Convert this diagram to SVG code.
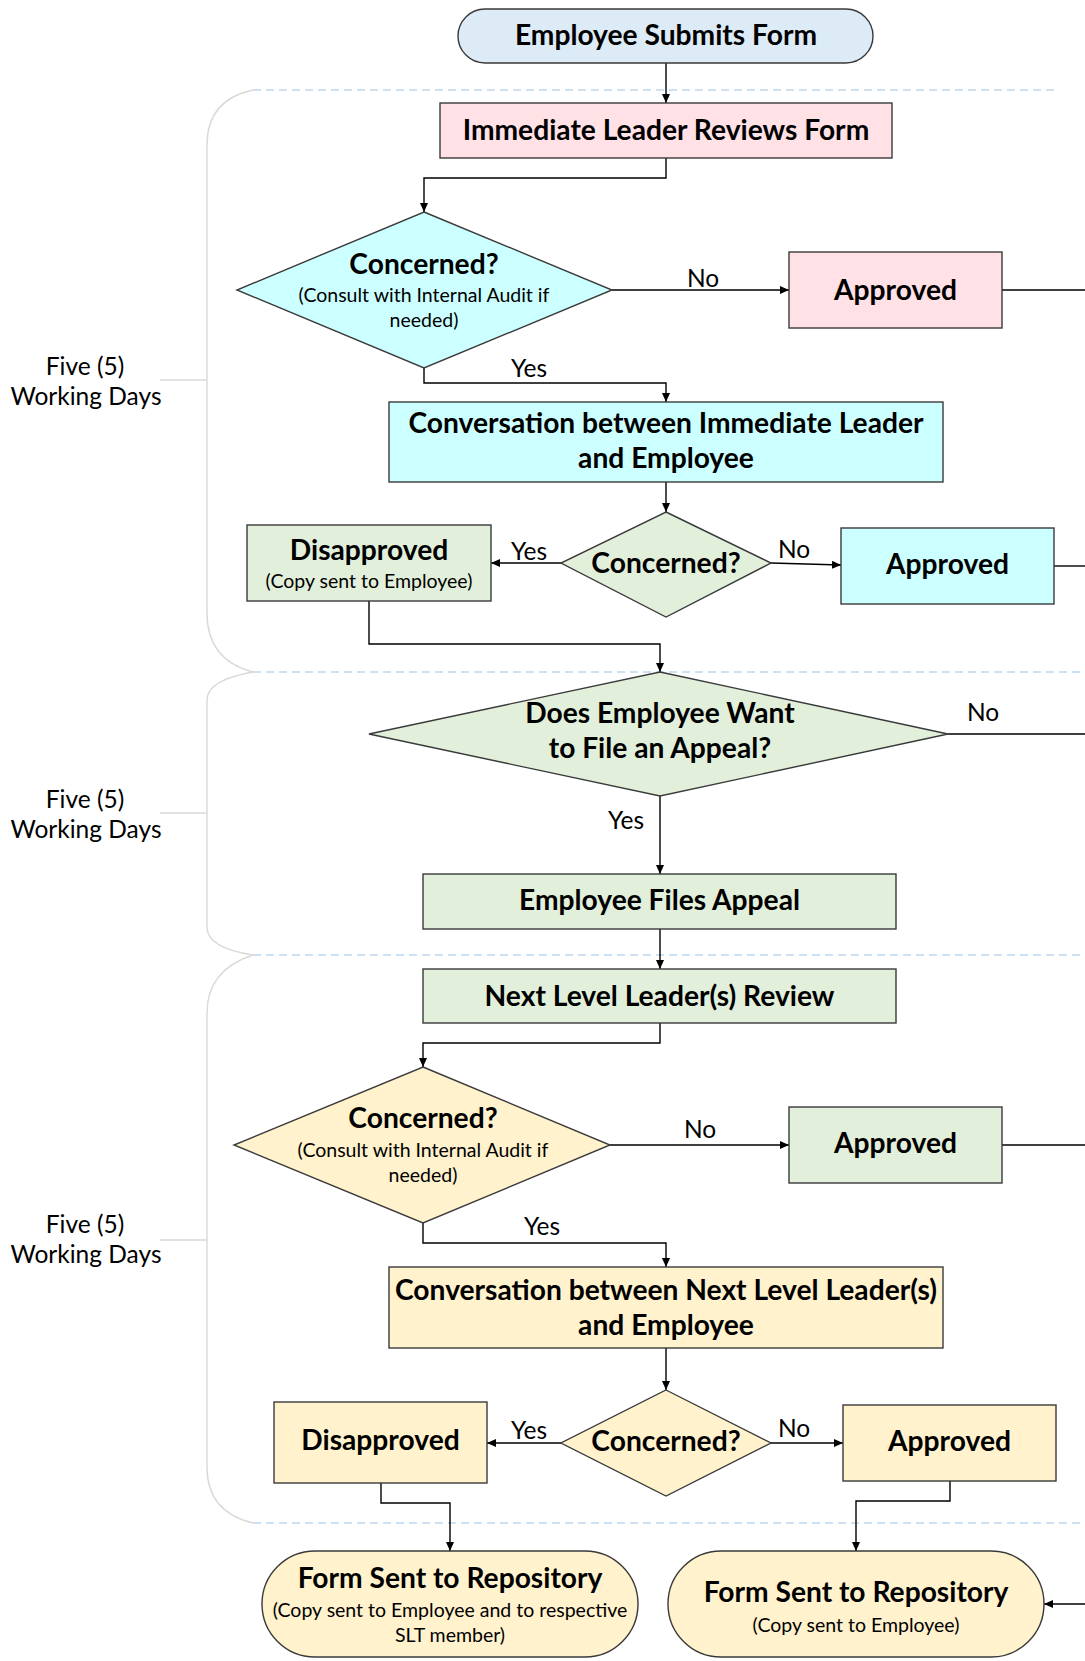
<svg xmlns="http://www.w3.org/2000/svg" width="1085" height="1661" viewBox="0 0 1085 1661">
<defs>
<marker id="arr" markerUnits="userSpaceOnUse" markerWidth="9" markerHeight="8" refX="9" refY="4" orient="auto">
<path d="M0,0 L9,4 L0,8 z" fill="#000"/>
</marker>
<style>
.bg{fill:#fff}
.n{stroke:#3a3a3a;stroke-width:1.4}
.blue{fill:#DDEBF7}
.pink{fill:#FFE1E6}
.cyan{fill:#CCFFFF}
.green{fill:#E2EFDA}
.yel{fill:#FFF2CC}
.t{font-family:Lato,"Open Sans","Liberation Sans",sans-serif;font-weight:bold;font-size:28.2px;fill:#000;text-anchor:middle}
.s{font-family:Lato,"Open Sans","Liberation Sans",sans-serif;font-size:19.5px;fill:#000;text-anchor:middle}
.l{font-family:Lato,"Open Sans","Liberation Sans",sans-serif;font-size:24.5px;fill:#000;text-anchor:middle}
.c{fill:none;stroke:#000;stroke-width:1.4}
.dash{fill:none;stroke:#BDD7EE;stroke-width:1.4;stroke-dasharray:8,5}
.br{fill:none;stroke:#D9D9D9;stroke-width:1.4}
</style>
</defs>
<rect class="bg" x="0" y="0" width="1085" height="1661"/>

<g id="swimlanes">
<path class="dash" d="M253,90 H1058"/>
<path class="dash" d="M253,672 H1085"/>
<path class="dash" d="M253,955 H1085"/>
<path class="dash" d="M253,1523 H1085"/>
<path class="br" d="M253,90 Q207,100 207,145 V613 Q207,660 253,672"/>
<path class="br" d="M253,672 Q207,680 207,700 V927 Q207,948 253,955"/>
<path class="br" d="M253,955 Q207,970 207,1013 V1467 Q207,1512 253,1523"/>
<path class="br" d="M160,380 H207 M160,813 H207 M160,1240 H207"/>
<text class="l" x="85" y="375">Five (5)</text>
<text class="l" x="86" y="405">Working Days</text>
<text class="l" x="85" y="808">Five (5)</text>
<text class="l" x="86" y="838">Working Days</text>
<text class="l" x="85" y="1233">Five (5)</text>
<text class="l" x="86" y="1263">Working Days</text>
</g>

<g id="connectors">
<path class="c" marker-end="url(#arr)" d="M666,63 V103"/>
<path class="c" marker-end="url(#arr)" d="M666,158 V178 H424 V212"/>
<path class="c" marker-end="url(#arr)" d="M612,290 H789"/>
<path class="c" d="M1002,290 H1085"/>
<path class="c" marker-end="url(#arr)" d="M424,368 V383 H666 V402"/>
<path class="c" marker-end="url(#arr)" d="M666,482 V512"/>
<path class="c" marker-end="url(#arr)" d="M561,563 H491"/>
<path class="c" marker-end="url(#arr)" d="M771,563 L841,565"/>
<path class="c" d="M1054,566 H1085"/>
<path class="c" marker-end="url(#arr)" d="M369,601 V644 H660 V672"/>
<path class="c" d="M948,734 H1085"/>
<path class="c" marker-end="url(#arr)" d="M660,796 V874"/>
<path class="c" marker-end="url(#arr)" d="M660,929 V969"/>
<path class="c" marker-end="url(#arr)" d="M660,1023 V1043 H423 V1067"/>
<path class="c" marker-end="url(#arr)" d="M610,1145 H789"/>
<path class="c" d="M1002,1145 H1085"/>
<path class="c" marker-end="url(#arr)" d="M423,1223 V1243 H666 V1267"/>
<path class="c" marker-end="url(#arr)" d="M666,1348 V1390"/>
<path class="c" marker-end="url(#arr)" d="M561,1443 H487"/>
<path class="c" marker-end="url(#arr)" d="M771,1443 H843"/>
<path class="c" marker-end="url(#arr)" d="M381,1483 V1503 H450 V1551"/>
<path class="c" marker-end="url(#arr)" d="M950,1481 V1501 H856 V1551"/>
<path class="c" marker-end="url(#arr)" d="M1085,1604 H1044"/>
<text class="l" x="703" y="287">No</text>
<text class="l" x="529" y="377">Yes</text>
<text class="l" x="529" y="560">Yes</text>
<text class="l" x="794" y="558">No</text>
<text class="l" x="983" y="721">No</text>
<text class="l" x="626" y="829">Yes</text>
<text class="l" x="700" y="1138">No</text>
<text class="l" x="542" y="1235">Yes</text>
<text class="l" x="529" y="1439">Yes</text>
<text class="l" x="794" y="1437">No</text>
</g>

<g id="n-start">
<rect class="n blue" x="458" y="9" width="415" height="54" rx="27"/>
<text class="t" x="666" y="45">Employee Submits Form</text>
</g>
<g id="n-review">
<rect class="n pink" x="440" y="103" width="452" height="55"/>
<text class="t" x="666" y="139.5">Immediate Leader Reviews Form</text>
</g>
<g id="n-concerned1">
<polygon class="n cyan" points="424,212 612,290 424,368 237,290"/>
<text class="t" x="424" y="274">Concerned?</text>
<text class="s" x="424" y="302">(Consult with Internal Audit if</text>
<text class="s" x="424" y="327">needed)</text>
</g>
<g id="n-approved1">
<rect class="n pink" x="789" y="252" width="213" height="76"/>
<text class="t" x="895.5" y="300">Approved</text>
</g>
<g id="n-conv1">
<rect class="n cyan" x="389" y="402" width="554" height="80"/>
<text class="t" x="666" y="433">Conversation between Immediate Leader</text>
<text class="t" x="666" y="468">and Employee</text>
</g>
<g id="n-concerned2">
<polygon class="n green" points="666,512 771,563 666,617 561,563"/>
<text class="t" x="666" y="573">Concerned?</text>
</g>
<g id="n-disapproved1">
<rect class="n green" x="247" y="525" width="244" height="76"/>
<text class="t" x="369" y="560">Disapproved</text>
<text class="s" x="369" y="588">(Copy sent to Employee)</text>
</g>
<g id="n-approved2">
<rect class="n cyan" x="841" y="528" width="213" height="76"/>
<text class="t" x="947.5" y="574">Approved</text>
</g>
<g id="n-appeal-q">
<polygon class="n green" points="660,672 948,734 660,796 369,734"/>
<text class="t" x="660" y="723">Does Employee Want</text>
<text class="t" x="660" y="758">to File an Appeal?</text>
</g>
<g id="n-files-appeal">
<rect class="n green" x="423" y="874" width="473" height="55"/>
<text class="t" x="659.5" y="910">Employee Files Appeal</text>
</g>
<g id="n-next-review">
<rect class="n green" x="423" y="969" width="473" height="54"/>
<text class="t" x="659.5" y="1006">Next Level Leader(s) Review</text>
</g>
<g id="n-concerned3">
<polygon class="n yel" points="423,1067 610,1145 423,1223 234,1145"/>
<text class="t" x="423" y="1128">Concerned?</text>
<text class="s" x="423" y="1157">(Consult with Internal Audit if</text>
<text class="s" x="423" y="1182">needed)</text>
</g>
<g id="n-approved3">
<rect class="n green" x="789" y="1107" width="213" height="76"/>
<text class="t" x="895.5" y="1153">Approved</text>
</g>
<g id="n-conv2">
<rect class="n yel" x="389" y="1267" width="554" height="81"/>
<text class="t" x="666" y="1300">Conversation between Next Level Leader(s)</text>
<text class="t" x="666" y="1335">and Employee</text>
</g>
<g id="n-concerned4">
<polygon class="n yel" points="666,1390 771,1443 666,1496 561,1443"/>
<text class="t" x="666" y="1451">Concerned?</text>
</g>
<g id="n-disapproved2">
<rect class="n yel" x="274" y="1402" width="213" height="81"/>
<text class="t" x="380.5" y="1450">Disapproved</text>
</g>
<g id="n-approved4">
<rect class="n yel" x="843" y="1405" width="213" height="76"/>
<text class="t" x="949.5" y="1451">Approved</text>
</g>
<g id="n-repo1">
<rect class="n yel" x="262" y="1551" width="376" height="106" rx="53"/>
<text class="t" x="450" y="1588">Form Sent to Repository</text>
<text class="s" x="450" y="1617">(Copy sent to Employee and to respective</text>
<text class="s" x="450" y="1642">SLT member)</text>
</g>
<g id="n-repo2">
<rect class="n yel" x="668" y="1551" width="376" height="106" rx="53"/>
<text class="t" x="856" y="1602">Form Sent to Repository</text>
<text class="s" x="856" y="1632">(Copy sent to Employee)</text>
</g>
</svg>
